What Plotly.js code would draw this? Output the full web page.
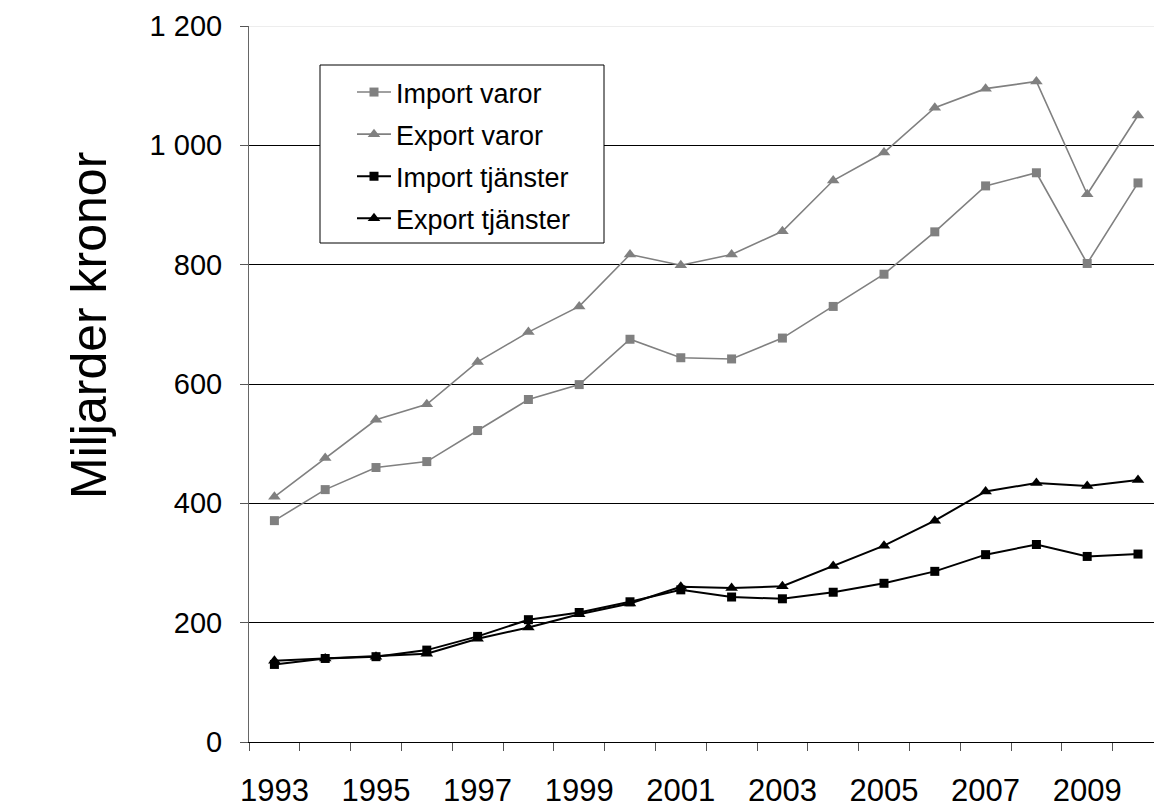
<!DOCTYPE html>
<html>
<head>
<meta charset="utf-8">
<script src="https://cdn.plot.ly/plotly-3.0.1.min.js"></script>
<style>html,body{margin:0;padding:0;background:#fff;}#chart{width:1154px;height:807px;}</style>
</head>
<body>
<div id="chart"></div>
<script>
var years = [1993,1994,1995,1996,1997,1998,1999,2000,2001,2002,2003,2004,2005,2006,2007,2008,2009,2010];
var importVaror = [371,423,460,470,522,574,599,675,644,642,677,730,784,855,932,954,802,937];
var exportVaror = [411,476,540,566,637,687,730,817,799,817,856,941,988,1063,1095,1107,918,1050];
var importTjanster = [130,140,143,154,177,205,217,235,255,243,240,251,266,286,314,331,311,315];
var exportTjanster = [136,140,143,148,173,192,214,232,260,258,261,295,329,371,420,434,429,439];
var xTickVals = [1993,1995,1997,1999,2001,2003,2005,2007,2009];
var xTickText = ['1993','1995','1997','1999','2001','2003','2005','2007','2009'];
var yTickVals = [0,200,400,600,800,1000,1200];
var yTickText = ['0','200','400','600','800','1 000','1 200'];
var yTitle = 'Miljarder kronor';

var FONT = 'Liberation Sans, Arial, sans-serif';
var grey = '#808080';

var traces = [
  {x: years, y: importVaror, name: 'Import varor', legendgroup: 'a', mode: 'lines+markers',
   line: {color: grey, width: 1.6}, marker: {symbol: 'square', size: 9, color: grey}},
  {x: years, y: exportVaror, name: 'Export varor', legendgroup: 'b', mode: 'lines+markers',
   line: {color: grey, width: 1.6}, marker: {symbol: 'triangle-up', size: 11, color: grey}},
  {x: years, y: importTjanster, name: 'Import tjänster', legendgroup: 'c', mode: 'lines+markers',
   line: {color: '#000', width: 2}, marker: {symbol: 'square', size: 9, color: '#000'}},
  {x: years, y: exportTjanster, name: 'Export tjänster', legendgroup: 'd', mode: 'lines+markers',
   line: {color: '#000', width: 2}, marker: {symbol: 'triangle-up', size: 11, color: '#000'}}
];

var layout = {
  width: 1154, height: 807,
  margin: {l: 249, r: 0, t: 26, b: 65, pad: 0},
  paper_bgcolor: '#fff', plot_bgcolor: '#fff',
  font: {family: FONT, color: '#000', size: 29},
  showlegend: true,
  legend: {x: (352-249)/905, y: (742-68)/716, xanchor: 'left', yanchor: 'top',
           bgcolor: 'rgba(0,0,0,0)', borderwidth: 0, traceorder: 'grouped',
           font: {family: FONT, size: 27, color: '#000'}, tracegroupgap: 4, itemwidth: 34},
  xaxis: {
    range: [1992.5, 2010.315], tickmode: 'array', tickvals: xTickVals, ticktext: xTickText,
    ticks: '', showgrid: false, zeroline: false, showline: true, linecolor: '#000', linewidth: 1,
    ticklabelstandoff: 21, tickfont: {family: FONT, size: 31, color: '#000'},
    minor: {tick0: 1992.5, dtick: 1, ticks: 'outside', ticklen: 8, tickcolor: '#555', tickwidth: 1, showgrid: false}
  },
  yaxis: {
    range: [0, 1200], tickmode: 'array', tickvals: yTickVals, ticktext: yTickText,
    ticks: 'outside', ticklen: 8, tickcolor: '#555', tickwidth: 1,
    showgrid: true, gridcolor: '#000', gridwidth: 1, zeroline: false,
    showline: true, linecolor: '#666', linewidth: 1,
    ticklabelstandoff: 12, tickfont: {family: FONT, size: 29, color: '#000'}
  },
  annotations: [
    {text: yTitle, xref: 'paper', yref: 'paper', x: (89-249)/905, y: (742-326)/716,
     xanchor: 'center', yanchor: 'middle', textangle: -90, showarrow: false,
     font: {family: FONT, size: 50, color: '#000'}}
  ],
  shapes: [
    {type: 'line', xref: 'paper', yref: 'y', x0: 0, x1: 1, y0: 1200, y1: 1200,
     line: {color: '#dcdcdc', width: 1}, layer: 'above'},
    {type: 'rect', xref: 'paper', yref: 'paper', x0: (320-249)/905, x1: (604-249)/905,
     y0: (742-243)/716, y1: (742-65)/716, line: {color: '#000', width: 1},
     fillcolor: '#fff', layer: 'above'}
  ]
};

Plotly.newPlot('chart', traces, layout, {displayModeBar: false, staticPlot: true});
</script>
</body>
</html>
